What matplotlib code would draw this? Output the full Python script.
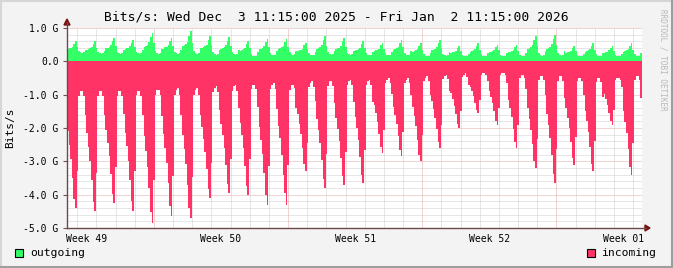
import numpy as np
import matplotlib
matplotlib.use("Agg")
import matplotlib.pyplot as plt
import matplotlib.dates as mdates
from matplotlib.patches import Rectangle
from matplotlib.lines import Line2D

W, H = 673, 268

# 2-hour buckets starting Wed Dec 3 11:15, one row per day (11:15 .. 09:15)
start = np.datetime64("2025-12-03T11:15")
step = np.timedelta64(2, "h")

outgoing = [  # G bits/s
    .37, .39, .41, .44, .53, .60, .43, .30, .27, .25, .27, .34,
    .35, .37, .39, .43, .52, .60, .41, .28, .24, .22, .24, .32,
    .39, .41, .44, .48, .60, .70, .46, .29, .24, .22, .24, .34,
    .37, .39, .41, .46, .56, .65, .44, .28, .24, .22, .24, .33,
    .44, .47, .50, .57, .72, .85, .54, .31, .25, .22, .25, .38,
    .38, .42, .43, .49, .60, .70, .45, .29, .24, .22, .24, .33,
    .46, .49, .53, .59, .76, .90, .56, .32, .25, .22, .25, .39,
    .39, .42, .45, .50, .64, .75, .48, .28, .23, .20, .23, .34,
    .38, .41, .43, .49, .62, .72, .46, .28, .23, .20, .23, .33,
    .31, .34, .36, .41, .53, .62, .39, .22, .17, .15, .17, .27,
    .36, .38, .41, .46, .58, .68, .43, .26, .20, .18, .20, .31,
    .37, .39, .42, .46, .58, .68, .44, .27, .22, .20, .22, .32,
    .31, .33, .35, .38, .48, .55, .37, .24, .20, .18, .20, .27,
    .38, .41, .44, .49, .64, .75, .47, .27, .21, .18, .21, .32,
    .36, .39, .41, .47, .60, .70, .44, .26, .21, .18, .21, .31,
    .33, .35, .37, .41, .52, .60, .39, .24, .20, .18, .20, .29,
    .31, .33, .35, .38, .48, .55, .37, .24, .20, .18, .20, .27,
    .34, .37, .39, .44, .56, .65, .42, .25, .20, .18, .20, .30,
    .29, .31, .33, .37, .47, .55, .35, .21, .17, .15, .17, .25,
    .33, .35, .38, .43, .55, .65, .40, .23, .18, .15, .18, .28,
    .26, .27, .29, .32, .39, .45, .30, .20, .17, .15, .17, .23,
    .29, .31, .33, .37, .47, .55, .35, .21, .17, .15, .17, .25,
    .27, .29, .31, .34, .43, .50, .33, .20, .17, .15, .17, .24,
    .28, .29, .30, .35, .42, .50, .32, .20, .17, .15, .17, .24,
    .36, .39, .42, .48, .63, .75, .45, .24, .18, .15, .18, .30,
    .38, .41, .44, .51, .67, .80, .48, .25, .18, .15, .18, .31,
    .26, .27, .29, .32, .39, .45, .30, .20, .17, .15, .17, .23,
    .29, .31, .33, .37, .47, .55, .35, .21, .17, .15, .17, .25,
    .25, .28, .29, .33, .39, .45, .30, .20, .17, .15, .17, .23,
    .29, .31, .33, .37, .47, .55, .35, .21, .17, .15, .17, .25,
]

incoming = [  # G bits/s, drawn negative
    -2.10, -2.51, -2.93, -3.49, -4.12, -4.40, -3.28, -1.04, -0.90, -0.90, -1.04, -1.60,
    -2.16, -2.56, -2.99, -3.56, -4.21, -4.50, -3.35, -1.04, -0.90, -0.90, -1.04, -1.62,
    -2.07, -2.44, -2.84, -3.38, -3.98, -4.25, -3.18, -1.03, -0.90, -0.90, -1.03, -1.57,
    -2.15, -2.55, -3.00, -3.55, -4.20, -4.50, -3.30, -1.00, -0.90, -0.90, -1.05, -1.60,
    -2.25, -2.69, -3.17, -3.81, -4.53, -4.85, -3.57, -1.01, -0.85, -0.85, -1.01, -1.65,
    -2.18, -2.60, -3.05, -3.66, -4.35, -4.65, -3.43, -1.00, -0.85, -0.80, -1.00, -1.61,
    -2.20, -2.62, -3.08, -3.70, -4.39, -4.70, -3.47, -1.00, -0.85, -0.80, -1.00, -1.62,
    -1.96, -2.32, -2.71, -3.24, -3.84, -4.10, -3.04, -0.93, -0.80, -0.75, -0.93, -1.46,
    -1.87, -2.22, -2.61, -3.12, -3.69, -3.95, -2.93, -0.88, -0.75, -0.70, -0.88, -1.39,
    -1.86, -2.22, -2.61, -3.14, -3.74, -4.00, -2.94, -0.83, -0.70, -0.70, -0.83, -1.36,
    -1.96, -2.36, -2.79, -3.36, -4.01, -4.30, -3.15, -0.84, -0.70, -0.65, -0.84, -1.42,
    -1.95, -2.30, -2.80, -3.40, -3.95, -4.30, -3.10, -0.85, -0.70, -0.70, -0.80, -1.40,
    -1.58, -1.87, -2.19, -2.61, -3.09, -3.30, -2.45, -0.76, -0.65, -0.60, -0.76, -1.18,
    -1.72, -2.07, -2.46, -2.97, -3.54, -3.80, -2.78, -0.73, -0.60, -0.60, -0.73, -1.24,
    -1.69, -2.03, -2.40, -2.89, -3.45, -3.70, -2.71, -0.72, -0.60, -0.55, -0.72, -1.22,
    -1.67, -2.00, -2.37, -2.86, -3.41, -3.65, -2.67, -0.72, -0.60, -0.55, -0.72, -1.21,
    -1.32, -1.56, -1.83, -2.18, -2.57, -2.75, -2.05, -0.64, -0.55, -0.50, -0.64, -0.99,
    -1.36, -1.61, -1.88, -2.25, -2.67, -2.85, -2.11, -0.64, -0.55, -0.50, -0.64, -1.01,
    -1.38, -1.65, -1.95, -2.35, -2.80, -3.00, -2.20, -0.60, -0.50, -0.45, -0.60, -1.00,
    -1.20, -1.44, -1.70, -2.04, -2.43, -2.60, -1.91, -0.54, -0.45, -0.40, -0.54, -0.88,
    -0.96, -1.14, -1.33, -1.58, -1.87, -2.00, -1.49, -0.46, -0.40, -0.35, -0.46, -0.72,
    -0.77, -0.90, -1.05, -1.24, -1.45, -1.55, -1.17, -0.40, -0.35, -0.35, -0.40, -0.59,
    -0.89, -1.06, -1.25, -1.50, -1.78, -1.90, -1.40, -0.41, -0.35, -0.35, -0.41, -0.66,
    -1.17, -1.41, -1.68, -2.03, -2.42, -2.60, -1.90, -0.49, -0.40, -0.40, -0.49, -0.84,
    -1.41, -1.72, -2.05, -2.49, -2.98, -3.20, -2.32, -0.56, -0.45, -0.45, -0.56, -1.00,
    -1.57, -1.92, -2.31, -2.82, -3.39, -3.65, -2.63, -0.58, -0.45, -0.45, -0.58, -1.09,
    -1.41, -1.70, -2.01, -2.42, -2.89, -3.10, -2.27, -0.60, -0.50, -0.50, -0.60, -1.02,
    -1.48, -1.79, -2.12, -2.57, -3.08, -3.30, -2.40, -0.61, -0.50, -0.50, -0.61, -1.06,
    -0.99, -1.14, -1.31, -1.54, -1.79, -1.90, -1.45, -0.56, -0.50, -0.50, -0.56, -0.78,
    -1.48, -1.81, -2.16, -2.63, -3.16, -3.40, -2.46, -0.57, -0.45, -0.45, -0.57, -1.10,
]

y_ticks = [1, 0, -1, -2, -3, -4, -5]
y_labels = ["1.0 G", "0.0", "-1.0 G", "-2.0 G", "-3.0 G", "-4.0 G", "-5.0 G"]
week_pos = ["2025-12-04T12:00", "2025-12-11T12:00", "2025-12-18T12:00",
            "2025-12-25T12:00", "2026-01-01T12:00"]
week_labels = ["Week 49", "Week 50", "Week 51", "Week 52", "Week 01"]
title = "Bits/s: Wed Dec  3 11:15:00 2025 - Fri Jan  2 11:15:00 2026"

GREEN = "#33ff66"
PINK = "#ff3366"
MONO = "DejaVu Sans Mono"


def to_num(d):
    return mdates.date2num(np.datetime64(d, "s").astype(object))


n = len(incoming)
edges = [to_num(start + i * step) for i in range(n + 1)]

fig = plt.figure(figsize=(W / 100, H / 100), dpi=100, facecolor="#f3f3f3")
x0, x1, ytop, ybot = 67, 642, 28, 228
ax = fig.add_axes([x0 / W, 1 - ybot / H, (x1 - x0) / W, (ybot - ytop) / H])
ax.set_facecolor("white")
ax.set_xlim(edges[0], edges[-1])
ax.set_ylim(-5, 1)

# grid (behind data)
for v in np.arange(-5, 1.01, 0.2):
    major = abs(v - round(v)) < 1e-6
    ax.axhline(v, color="#e3a8a8" if major else "#cfcfcf", lw=0.72,
               dashes=(1, 1), zorder=1)
days = np.arange(np.datetime64("2025-12-04"), np.datetime64("2026-01-03"))
for d in days:
    monday = d.astype(object).weekday() == 0
    ax.axvline(to_num(d), color="#e3a8a8" if monday else "#cfcfcf", lw=0.72,
               dashes=(1, 1), zorder=1)

ax.stairs(outgoing, edges, baseline=0, fill=True, color=GREEN, lw=0, zorder=2)
ax.stairs(incoming, edges, baseline=0, fill=True, color=PINK, lw=0, zorder=2)

for s in ax.spines.values():
    s.set_visible(False)

ax.set_yticks(y_ticks, y_labels, fontfamily=MONO, fontsize=7)
ax.set_xticks([to_num(w) for w in week_pos], week_labels, fontfamily=MONO, fontsize=7)
ax.tick_params(axis="x", length=0, pad=4)
ax.tick_params(axis="y", length=3, width=0.8, color="#705050", pad=3)


# axes lines with arrows (figure pixel coords)
def fx(x):
    return x / W


def fy(y):
    return 1 - y / H


AXC = "#6a4a4a"
fig.add_artist(Line2D([fx(x0), fx(646)], [fy(ybot), fy(ybot)], color=AXC, lw=1))
fig.add_artist(Line2D([fx(x0), fx(x0)], [fy(ybot), fy(22)], color=AXC, lw=1))
fig.patches.append(plt.Polygon([[fx(645), fy(ybot - 3)], [fx(645), fy(ybot + 3)],
                                [fx(650), fy(ybot)]], closed=True,
                               transform=fig.transFigure, color="#7a1010"))
fig.patches.append(plt.Polygon([[fx(x0 - 3), fy(25)], [fx(x0 + 3), fy(25)],
                                [fx(x0), fy(19)]], closed=True,
                               transform=fig.transFigure, color="#7a1010"))

fig.text(fx(336), fy(17), title, ha="center", va="center", fontfamily=MONO, fontsize=9.4)
fig.text(fx(10), fy(128), "Bits/s", rotation=90, ha="center", va="center",
         fontfamily=MONO, fontsize=8)
fig.text(fx(663), fy(60), "RRDTOOL / TOBI OETIKER", rotation=270, ha="center",
         va="center", fontfamily=MONO, fontsize=5.5, color="#b8b8b8")

# legend
fig.patches.append(Rectangle((fx(15), fy(257)), 8 / W, 8 / H, transform=fig.transFigure,
                             facecolor=GREEN, edgecolor="black", lw=0.8))
fig.text(fx(30), fy(253.5), "outgoing", ha="left", va="center", fontfamily=MONO, fontsize=8.2)
fig.patches.append(Rectangle((fx(587), fy(257)), 8 / W, 8 / H, transform=fig.transFigure,
                             facecolor=PINK, edgecolor="black", lw=0.8))
fig.text(fx(601), fy(253.5), "incoming", ha="left", va="center", fontfamily=MONO, fontsize=8.2)

# 3d border
fig.add_artist(Line2D([0, 1], [fy(0.75), fy(0.75)], color="#d6d6d6", lw=1.5))
fig.add_artist(Line2D([fx(0.75), fx(0.75)], [0, 1], color="#d6d6d6", lw=1.5))
fig.add_artist(Line2D([0, 1], [fy(H - 1), fy(H - 1)], color="#9e9e9e", lw=1.5))
fig.add_artist(Line2D([fx(W - 1), fx(W - 1)], [0, 1], color="#9e9e9e", lw=1.5))

fig.savefig("out.png", dpi=100, facecolor=fig.get_facecolor())
